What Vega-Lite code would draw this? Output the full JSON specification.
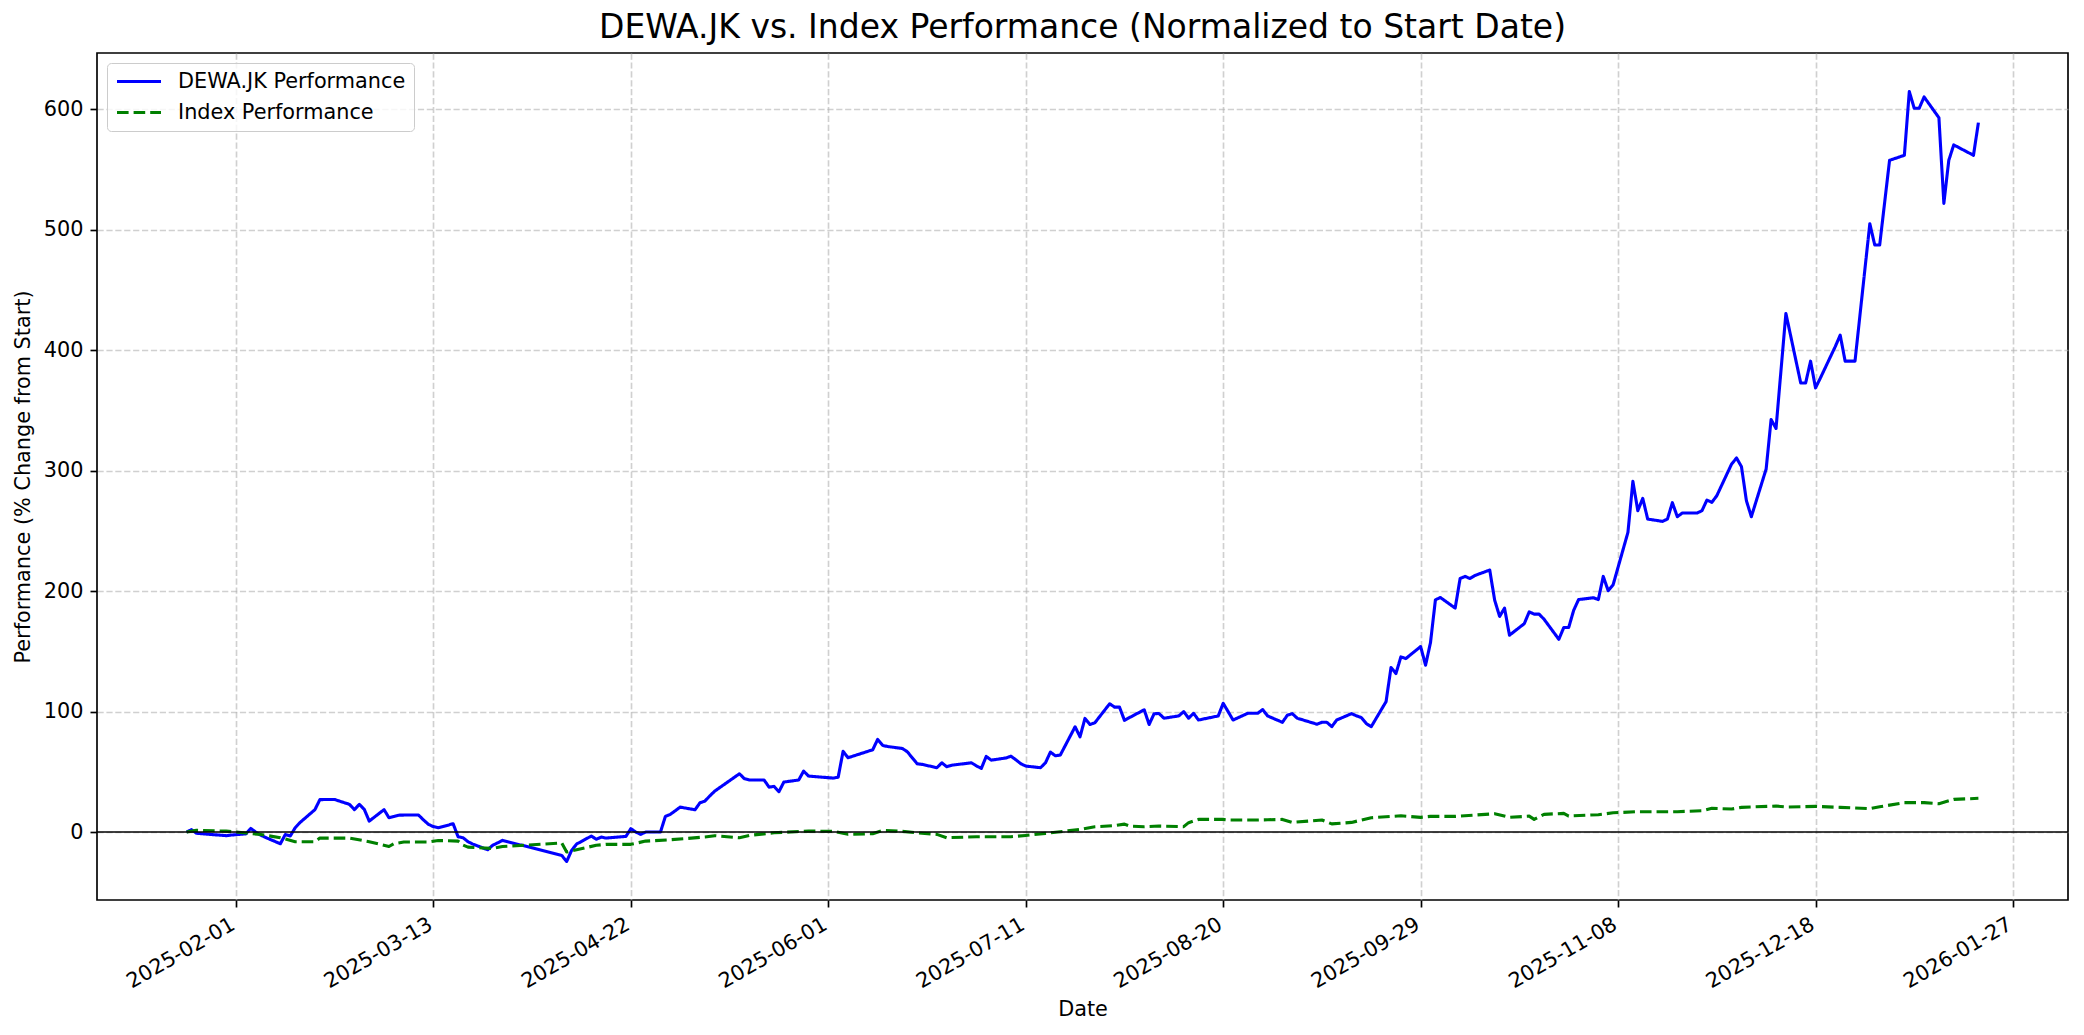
{
  "$schema": "https://vega.github.io/schema/vega-lite/v6.json",
  "width": 1971,
  "height": 847,
  "autosize": {"type": "none"},
  "padding": {"left": 97, "top": 53, "right": 16, "bottom": 135},
  "background": "white",
  "title": {"text": "DEWA.JK vs. Index Performance (Normalized to Start Date)", "font": "DejaVu Sans", "fontSize": 33, "fontWeight": "normal", "color": "black", "anchor": "middle", "offset": 8},
  "config": {
    "view": {"stroke": "black", "strokeWidth": 1.67},
    "axis": {"labelFont": "DejaVu Sans", "labelFontSize": 20.8, "labelColor": "black", "titleFont": "DejaVu Sans", "titleFontSize": 20.8, "titleFontWeight": "normal", "titleColor": "black", "domain": false, "tickColor": "black", "tickWidth": 1.67, "tickSize": 7, "labelPadding": 7, "grid": true, "gridColor": "#b0b0b0", "gridOpacity": 0.6, "gridWidth": 1.67, "gridDash": [6.2, 2.7]},
    "legend": {"orient": "none", "legendX": 10, "legendY": 10, "title": null, "labelFont": "DejaVu Sans", "labelFontSize": 20.8, "labelColor": "black", "labelLimit": 600, "symbolType": "stroke", "symbolSize": 1936, "symbolStrokeWidth": 3.1, "labelOffset": 15, "padding": 8, "rowPadding": 9, "clipHeight": 21, "fillColor": "rgba(255,255,255,0.8)", "strokeColor": "#cccccc", "cornerRadius": 4}
  },
  "datasets": {
    "perf": [
      {"date":"2025-01-22","series":"DEWA.JK Performance","value":0},
      {"date":"2025-01-23","series":"DEWA.JK Performance","value":2},
      {"date":"2025-01-24","series":"DEWA.JK Performance","value":-1},
      {"date":"2025-01-27","series":"DEWA.JK Performance","value":-2},
      {"date":"2025-01-30","series":"DEWA.JK Performance","value":-3},
      {"date":"2025-01-31","series":"DEWA.JK Performance","value":-2.5},
      {"date":"2025-02-03","series":"DEWA.JK Performance","value":-1.5},
      {"date":"2025-02-04","series":"DEWA.JK Performance","value":3},
      {"date":"2025-02-05","series":"DEWA.JK Performance","value":0},
      {"date":"2025-02-06","series":"DEWA.JK Performance","value":-2.5},
      {"date":"2025-02-07","series":"DEWA.JK Performance","value":-4.5},
      {"date":"2025-02-10","series":"DEWA.JK Performance","value":-9.7},
      {"date":"2025-02-11","series":"DEWA.JK Performance","value":-2},
      {"date":"2025-02-12","series":"DEWA.JK Performance","value":-3.3},
      {"date":"2025-02-13","series":"DEWA.JK Performance","value":3.6},
      {"date":"2025-02-14","series":"DEWA.JK Performance","value":8},
      {"date":"2025-02-17","series":"DEWA.JK Performance","value":18.6},
      {"date":"2025-02-18","series":"DEWA.JK Performance","value":26.9},
      {"date":"2025-02-19","series":"DEWA.JK Performance","value":27},
      {"date":"2025-02-20","series":"DEWA.JK Performance","value":27},
      {"date":"2025-02-21","series":"DEWA.JK Performance","value":27},
      {"date":"2025-02-24","series":"DEWA.JK Performance","value":23},
      {"date":"2025-02-25","series":"DEWA.JK Performance","value":18.6},
      {"date":"2025-02-26","series":"DEWA.JK Performance","value":23},
      {"date":"2025-02-27","series":"DEWA.JK Performance","value":18.8},
      {"date":"2025-02-28","series":"DEWA.JK Performance","value":9.1},
      {"date":"2025-03-03","series":"DEWA.JK Performance","value":18.6},
      {"date":"2025-03-04","series":"DEWA.JK Performance","value":11.9},
      {"date":"2025-03-05","series":"DEWA.JK Performance","value":13},
      {"date":"2025-03-06","series":"DEWA.JK Performance","value":14},
      {"date":"2025-03-07","series":"DEWA.JK Performance","value":14.1},
      {"date":"2025-03-10","series":"DEWA.JK Performance","value":14.1},
      {"date":"2025-03-11","series":"DEWA.JK Performance","value":10},
      {"date":"2025-03-12","series":"DEWA.JK Performance","value":6.4},
      {"date":"2025-03-13","series":"DEWA.JK Performance","value":4.5},
      {"date":"2025-03-14","series":"DEWA.JK Performance","value":3.6},
      {"date":"2025-03-17","series":"DEWA.JK Performance","value":6.9},
      {"date":"2025-03-18","series":"DEWA.JK Performance","value":-3.9},
      {"date":"2025-03-19","series":"DEWA.JK Performance","value":-4.7},
      {"date":"2025-03-20","series":"DEWA.JK Performance","value":-8},
      {"date":"2025-03-21","series":"DEWA.JK Performance","value":-10},
      {"date":"2025-03-24","series":"DEWA.JK Performance","value":-14.7},
      {"date":"2025-03-25","series":"DEWA.JK Performance","value":-11},
      {"date":"2025-03-26","series":"DEWA.JK Performance","value":-9},
      {"date":"2025-03-27","series":"DEWA.JK Performance","value":-6.9},
      {"date":"2025-04-08","series":"DEWA.JK Performance","value":-19.4},
      {"date":"2025-04-09","series":"DEWA.JK Performance","value":-24.4},
      {"date":"2025-04-10","series":"DEWA.JK Performance","value":-15.2},
      {"date":"2025-04-11","series":"DEWA.JK Performance","value":-10},
      {"date":"2025-04-14","series":"DEWA.JK Performance","value":-3.3},
      {"date":"2025-04-15","series":"DEWA.JK Performance","value":-6},
      {"date":"2025-04-16","series":"DEWA.JK Performance","value":-4.2},
      {"date":"2025-04-17","series":"DEWA.JK Performance","value":-5},
      {"date":"2025-04-21","series":"DEWA.JK Performance","value":-3.6},
      {"date":"2025-04-22","series":"DEWA.JK Performance","value":2.8},
      {"date":"2025-04-23","series":"DEWA.JK Performance","value":0},
      {"date":"2025-04-24","series":"DEWA.JK Performance","value":-1.9},
      {"date":"2025-04-25","series":"DEWA.JK Performance","value":0},
      {"date":"2025-04-28","series":"DEWA.JK Performance","value":0},
      {"date":"2025-04-29","series":"DEWA.JK Performance","value":13},
      {"date":"2025-04-30","series":"DEWA.JK Performance","value":14.7},
      {"date":"2025-05-02","series":"DEWA.JK Performance","value":20.7},
      {"date":"2025-05-05","series":"DEWA.JK Performance","value":18.5},
      {"date":"2025-05-06","series":"DEWA.JK Performance","value":24.3},
      {"date":"2025-05-07","series":"DEWA.JK Performance","value":25.7},
      {"date":"2025-05-08","series":"DEWA.JK Performance","value":30},
      {"date":"2025-05-09","series":"DEWA.JK Performance","value":34},
      {"date":"2025-05-14","series":"DEWA.JK Performance","value":48.4},
      {"date":"2025-05-15","series":"DEWA.JK Performance","value":44.3},
      {"date":"2025-05-16","series":"DEWA.JK Performance","value":43.2},
      {"date":"2025-05-19","series":"DEWA.JK Performance","value":43.2},
      {"date":"2025-05-20","series":"DEWA.JK Performance","value":37.3},
      {"date":"2025-05-21","series":"DEWA.JK Performance","value":37.9},
      {"date":"2025-05-22","series":"DEWA.JK Performance","value":33.5},
      {"date":"2025-05-23","series":"DEWA.JK Performance","value":41.5},
      {"date":"2025-05-26","series":"DEWA.JK Performance","value":43.2},
      {"date":"2025-05-27","series":"DEWA.JK Performance","value":50.6},
      {"date":"2025-05-28","series":"DEWA.JK Performance","value":46.5},
      {"date":"2025-06-02","series":"DEWA.JK Performance","value":44.8},
      {"date":"2025-06-03","series":"DEWA.JK Performance","value":45.5},
      {"date":"2025-06-04","series":"DEWA.JK Performance","value":67},
      {"date":"2025-06-05","series":"DEWA.JK Performance","value":61.7},
      {"date":"2025-06-10","series":"DEWA.JK Performance","value":68.3},
      {"date":"2025-06-11","series":"DEWA.JK Performance","value":76.9},
      {"date":"2025-06-12","series":"DEWA.JK Performance","value":72},
      {"date":"2025-06-13","series":"DEWA.JK Performance","value":71},
      {"date":"2025-06-16","series":"DEWA.JK Performance","value":69.4},
      {"date":"2025-06-17","series":"DEWA.JK Performance","value":66.7},
      {"date":"2025-06-18","series":"DEWA.JK Performance","value":61.7},
      {"date":"2025-06-19","series":"DEWA.JK Performance","value":56.7},
      {"date":"2025-06-20","series":"DEWA.JK Performance","value":56.2},
      {"date":"2025-06-23","series":"DEWA.JK Performance","value":53.4},
      {"date":"2025-06-24","series":"DEWA.JK Performance","value":57.5},
      {"date":"2025-06-25","series":"DEWA.JK Performance","value":54.2},
      {"date":"2025-06-26","series":"DEWA.JK Performance","value":55.5},
      {"date":"2025-06-30","series":"DEWA.JK Performance","value":57.5},
      {"date":"2025-07-01","series":"DEWA.JK Performance","value":55},
      {"date":"2025-07-02","series":"DEWA.JK Performance","value":52.8},
      {"date":"2025-07-03","series":"DEWA.JK Performance","value":62.8},
      {"date":"2025-07-04","series":"DEWA.JK Performance","value":59.7},
      {"date":"2025-07-07","series":"DEWA.JK Performance","value":61.5},
      {"date":"2025-07-08","series":"DEWA.JK Performance","value":63},
      {"date":"2025-07-09","series":"DEWA.JK Performance","value":60},
      {"date":"2025-07-10","series":"DEWA.JK Performance","value":56.7},
      {"date":"2025-07-11","series":"DEWA.JK Performance","value":54.8},
      {"date":"2025-07-14","series":"DEWA.JK Performance","value":53.4},
      {"date":"2025-07-15","series":"DEWA.JK Performance","value":57.5},
      {"date":"2025-07-16","series":"DEWA.JK Performance","value":66.4},
      {"date":"2025-07-17","series":"DEWA.JK Performance","value":63.3},
      {"date":"2025-07-18","series":"DEWA.JK Performance","value":63.9},
      {"date":"2025-07-21","series":"DEWA.JK Performance","value":87.4},
      {"date":"2025-07-22","series":"DEWA.JK Performance","value":79.1},
      {"date":"2025-07-23","series":"DEWA.JK Performance","value":94.3},
      {"date":"2025-07-24","series":"DEWA.JK Performance","value":89.3},
      {"date":"2025-07-25","series":"DEWA.JK Performance","value":90.7},
      {"date":"2025-07-28","series":"DEWA.JK Performance","value":106.5},
      {"date":"2025-07-29","series":"DEWA.JK Performance","value":103.7},
      {"date":"2025-07-30","series":"DEWA.JK Performance","value":103.7},
      {"date":"2025-07-31","series":"DEWA.JK Performance","value":92.7},
      {"date":"2025-08-01","series":"DEWA.JK Performance","value":95},
      {"date":"2025-08-04","series":"DEWA.JK Performance","value":101.5},
      {"date":"2025-08-05","series":"DEWA.JK Performance","value":89.3},
      {"date":"2025-08-06","series":"DEWA.JK Performance","value":98.2},
      {"date":"2025-08-07","series":"DEWA.JK Performance","value":98.4},
      {"date":"2025-08-08","series":"DEWA.JK Performance","value":94.5},
      {"date":"2025-08-11","series":"DEWA.JK Performance","value":96.4},
      {"date":"2025-08-12","series":"DEWA.JK Performance","value":100},
      {"date":"2025-08-13","series":"DEWA.JK Performance","value":94.5},
      {"date":"2025-08-14","series":"DEWA.JK Performance","value":98.6},
      {"date":"2025-08-15","series":"DEWA.JK Performance","value":93},
      {"date":"2025-08-19","series":"DEWA.JK Performance","value":96.4},
      {"date":"2025-08-20","series":"DEWA.JK Performance","value":106.9},
      {"date":"2025-08-21","series":"DEWA.JK Performance","value":100},
      {"date":"2025-08-22","series":"DEWA.JK Performance","value":93},
      {"date":"2025-08-25","series":"DEWA.JK Performance","value":98.6},
      {"date":"2025-08-26","series":"DEWA.JK Performance","value":98.6},
      {"date":"2025-08-27","series":"DEWA.JK Performance","value":98.6},
      {"date":"2025-08-28","series":"DEWA.JK Performance","value":101.7},
      {"date":"2025-08-29","series":"DEWA.JK Performance","value":96.4},
      {"date":"2025-09-01","series":"DEWA.JK Performance","value":91.1},
      {"date":"2025-09-02","series":"DEWA.JK Performance","value":97},
      {"date":"2025-09-03","series":"DEWA.JK Performance","value":98.3},
      {"date":"2025-09-04","series":"DEWA.JK Performance","value":94.5},
      {"date":"2025-09-08","series":"DEWA.JK Performance","value":89.5},
      {"date":"2025-09-09","series":"DEWA.JK Performance","value":91.1},
      {"date":"2025-09-10","series":"DEWA.JK Performance","value":91.1},
      {"date":"2025-09-11","series":"DEWA.JK Performance","value":87.5},
      {"date":"2025-09-12","series":"DEWA.JK Performance","value":93},
      {"date":"2025-09-15","series":"DEWA.JK Performance","value":98.3},
      {"date":"2025-09-16","series":"DEWA.JK Performance","value":96.5},
      {"date":"2025-09-17","series":"DEWA.JK Performance","value":95},
      {"date":"2025-09-18","series":"DEWA.JK Performance","value":90},
      {"date":"2025-09-19","series":"DEWA.JK Performance","value":87.5},
      {"date":"2025-09-22","series":"DEWA.JK Performance","value":108.3},
      {"date":"2025-09-23","series":"DEWA.JK Performance","value":136.6},
      {"date":"2025-09-24","series":"DEWA.JK Performance","value":131.6},
      {"date":"2025-09-25","series":"DEWA.JK Performance","value":145.4},
      {"date":"2025-09-26","series":"DEWA.JK Performance","value":144},
      {"date":"2025-09-29","series":"DEWA.JK Performance","value":154},
      {"date":"2025-09-30","series":"DEWA.JK Performance","value":138.5},
      {"date":"2025-10-01","series":"DEWA.JK Performance","value":157.3},
      {"date":"2025-10-02","series":"DEWA.JK Performance","value":192.8},
      {"date":"2025-10-03","series":"DEWA.JK Performance","value":194.7},
      {"date":"2025-10-06","series":"DEWA.JK Performance","value":185.9},
      {"date":"2025-10-07","series":"DEWA.JK Performance","value":210.5},
      {"date":"2025-10-08","series":"DEWA.JK Performance","value":212.2},
      {"date":"2025-10-09","series":"DEWA.JK Performance","value":210.5},
      {"date":"2025-10-10","series":"DEWA.JK Performance","value":213},
      {"date":"2025-10-13","series":"DEWA.JK Performance","value":217.5},
      {"date":"2025-10-14","series":"DEWA.JK Performance","value":192.5},
      {"date":"2025-10-15","series":"DEWA.JK Performance","value":179},
      {"date":"2025-10-16","series":"DEWA.JK Performance","value":185.9},
      {"date":"2025-10-17","series":"DEWA.JK Performance","value":163.4},
      {"date":"2025-10-20","series":"DEWA.JK Performance","value":173},
      {"date":"2025-10-21","series":"DEWA.JK Performance","value":182.8},
      {"date":"2025-10-22","series":"DEWA.JK Performance","value":180.9},
      {"date":"2025-10-23","series":"DEWA.JK Performance","value":180.9},
      {"date":"2025-10-24","series":"DEWA.JK Performance","value":176.7},
      {"date":"2025-10-27","series":"DEWA.JK Performance","value":160},
      {"date":"2025-10-28","series":"DEWA.JK Performance","value":169.8},
      {"date":"2025-10-29","series":"DEWA.JK Performance","value":169.8},
      {"date":"2025-10-30","series":"DEWA.JK Performance","value":184},
      {"date":"2025-10-31","series":"DEWA.JK Performance","value":193},
      {"date":"2025-11-03","series":"DEWA.JK Performance","value":194.5},
      {"date":"2025-11-04","series":"DEWA.JK Performance","value":193},
      {"date":"2025-11-05","series":"DEWA.JK Performance","value":212.2},
      {"date":"2025-11-06","series":"DEWA.JK Performance","value":200.3},
      {"date":"2025-11-07","series":"DEWA.JK Performance","value":205.3},
      {"date":"2025-11-10","series":"DEWA.JK Performance","value":248.8},
      {"date":"2025-11-11","series":"DEWA.JK Performance","value":291.1},
      {"date":"2025-11-12","series":"DEWA.JK Performance","value":266.8},
      {"date":"2025-11-13","series":"DEWA.JK Performance","value":277},
      {"date":"2025-11-14","series":"DEWA.JK Performance","value":259.8},
      {"date":"2025-11-17","series":"DEWA.JK Performance","value":257.9},
      {"date":"2025-11-18","series":"DEWA.JK Performance","value":259.8},
      {"date":"2025-11-19","series":"DEWA.JK Performance","value":273.4},
      {"date":"2025-11-20","series":"DEWA.JK Performance","value":261.8},
      {"date":"2025-11-21","series":"DEWA.JK Performance","value":264.8},
      {"date":"2025-11-24","series":"DEWA.JK Performance","value":264.8},
      {"date":"2025-11-25","series":"DEWA.JK Performance","value":266.8},
      {"date":"2025-11-26","series":"DEWA.JK Performance","value":275.6},
      {"date":"2025-11-27","series":"DEWA.JK Performance","value":273.7},
      {"date":"2025-11-28","series":"DEWA.JK Performance","value":279.2},
      {"date":"2025-12-01","series":"DEWA.JK Performance","value":305.5},
      {"date":"2025-12-02","series":"DEWA.JK Performance","value":310.5},
      {"date":"2025-12-03","series":"DEWA.JK Performance","value":303.3},
      {"date":"2025-12-04","series":"DEWA.JK Performance","value":275},
      {"date":"2025-12-05","series":"DEWA.JK Performance","value":261.8},
      {"date":"2025-12-08","series":"DEWA.JK Performance","value":301.4},
      {"date":"2025-12-09","series":"DEWA.JK Performance","value":342.4},
      {"date":"2025-12-10","series":"DEWA.JK Performance","value":335},
      {"date":"2025-12-11","series":"DEWA.JK Performance","value":383},
      {"date":"2025-12-12","series":"DEWA.JK Performance","value":430.5},
      {"date":"2025-12-15","series":"DEWA.JK Performance","value":372.8},
      {"date":"2025-12-16","series":"DEWA.JK Performance","value":372.8},
      {"date":"2025-12-17","series":"DEWA.JK Performance","value":390.9},
      {"date":"2025-12-18","series":"DEWA.JK Performance","value":368.7},
      {"date":"2025-12-19","series":"DEWA.JK Performance","value":377},
      {"date":"2025-12-22","series":"DEWA.JK Performance","value":403},
      {"date":"2025-12-23","series":"DEWA.JK Performance","value":412.5},
      {"date":"2025-12-24","series":"DEWA.JK Performance","value":390.9},
      {"date":"2025-12-26","series":"DEWA.JK Performance","value":390.9},
      {"date":"2025-12-29","series":"DEWA.JK Performance","value":505},
      {"date":"2025-12-30","series":"DEWA.JK Performance","value":487.3},
      {"date":"2025-12-31","series":"DEWA.JK Performance","value":487.3},
      {"date":"2026-01-02","series":"DEWA.JK Performance","value":557.6},
      {"date":"2026-01-05","series":"DEWA.JK Performance","value":561.8},
      {"date":"2026-01-06","series":"DEWA.JK Performance","value":614.7},
      {"date":"2026-01-07","series":"DEWA.JK Performance","value":600.8},
      {"date":"2026-01-08","series":"DEWA.JK Performance","value":600.8},
      {"date":"2026-01-09","series":"DEWA.JK Performance","value":610.2},
      {"date":"2026-01-12","series":"DEWA.JK Performance","value":593},
      {"date":"2026-01-13","series":"DEWA.JK Performance","value":521.9},
      {"date":"2026-01-14","series":"DEWA.JK Performance","value":557.6},
      {"date":"2026-01-15","series":"DEWA.JK Performance","value":570.4},
      {"date":"2026-01-19","series":"DEWA.JK Performance","value":561.8},
      {"date":"2026-01-20","series":"DEWA.JK Performance","value":588.9},
      {"date":"2025-01-22","series":"Index Performance","value":0},
      {"date":"2025-01-24","series":"Index Performance","value":1.4},
      {"date":"2025-01-30","series":"Index Performance","value":0.8},
      {"date":"2025-02-03","series":"Index Performance","value":-0.8},
      {"date":"2025-02-06","series":"Index Performance","value":-2},
      {"date":"2025-02-10","series":"Index Performance","value":-4.7},
      {"date":"2025-02-13","series":"Index Performance","value":-8},
      {"date":"2025-02-17","series":"Index Performance","value":-8},
      {"date":"2025-02-18","series":"Index Performance","value":-5},
      {"date":"2025-02-24","series":"Index Performance","value":-5},
      {"date":"2025-02-28","series":"Index Performance","value":-8},
      {"date":"2025-03-04","series":"Index Performance","value":-12},
      {"date":"2025-03-05","series":"Index Performance","value":-9.7},
      {"date":"2025-03-07","series":"Index Performance","value":-8.3},
      {"date":"2025-03-12","series":"Index Performance","value":-8.3},
      {"date":"2025-03-14","series":"Index Performance","value":-7},
      {"date":"2025-03-18","series":"Index Performance","value":-7.5},
      {"date":"2025-03-19","series":"Index Performance","value":-10.8},
      {"date":"2025-03-20","series":"Index Performance","value":-12.5},
      {"date":"2025-03-25","series":"Index Performance","value":-13.6},
      {"date":"2025-03-27","series":"Index Performance","value":-12},
      {"date":"2025-04-08","series":"Index Performance","value":-9.1},
      {"date":"2025-04-09","series":"Index Performance","value":-16.6},
      {"date":"2025-04-11","series":"Index Performance","value":-14.7},
      {"date":"2025-04-15","series":"Index Performance","value":-11},
      {"date":"2025-04-17","series":"Index Performance","value":-10.2},
      {"date":"2025-04-22","series":"Index Performance","value":-10.2},
      {"date":"2025-04-25","series":"Index Performance","value":-7.5},
      {"date":"2025-04-30","series":"Index Performance","value":-6.4},
      {"date":"2025-05-07","series":"Index Performance","value":-4.1},
      {"date":"2025-05-09","series":"Index Performance","value":-3},
      {"date":"2025-05-14","series":"Index Performance","value":-4.7},
      {"date":"2025-05-16","series":"Index Performance","value":-2.8},
      {"date":"2025-05-21","series":"Index Performance","value":-0.6},
      {"date":"2025-05-28","series":"Index Performance","value":0.8},
      {"date":"2025-06-02","series":"Index Performance","value":0.6},
      {"date":"2025-06-05","series":"Index Performance","value":-1.9},
      {"date":"2025-06-10","series":"Index Performance","value":-1.4},
      {"date":"2025-06-12","series":"Index Performance","value":1.4},
      {"date":"2025-06-16","series":"Index Performance","value":0.6},
      {"date":"2025-06-19","series":"Index Performance","value":-0.6},
      {"date":"2025-06-23","series":"Index Performance","value":-1.9},
      {"date":"2025-06-25","series":"Index Performance","value":-4.7},
      {"date":"2025-07-01","series":"Index Performance","value":-3.9},
      {"date":"2025-07-08","series":"Index Performance","value":-3.9},
      {"date":"2025-07-11","series":"Index Performance","value":-2.8},
      {"date":"2025-07-15","series":"Index Performance","value":-1.1},
      {"date":"2025-07-22","series":"Index Performance","value":2.2},
      {"date":"2025-07-25","series":"Index Performance","value":4.4},
      {"date":"2025-07-29","series":"Index Performance","value":5.3},
      {"date":"2025-07-31","series":"Index Performance","value":6.6},
      {"date":"2025-08-01","series":"Index Performance","value":5},
      {"date":"2025-08-04","series":"Index Performance","value":4.4},
      {"date":"2025-08-07","series":"Index Performance","value":5},
      {"date":"2025-08-12","series":"Index Performance","value":4.5},
      {"date":"2025-08-13","series":"Index Performance","value":7.8},
      {"date":"2025-08-15","series":"Index Performance","value":10.5},
      {"date":"2025-08-20","series":"Index Performance","value":10.5},
      {"date":"2025-08-21","series":"Index Performance","value":10},
      {"date":"2025-08-27","series":"Index Performance","value":10},
      {"date":"2025-08-29","series":"Index Performance","value":10.2},
      {"date":"2025-09-01","series":"Index Performance","value":10.5},
      {"date":"2025-09-03","series":"Index Performance","value":8},
      {"date":"2025-09-09","series":"Index Performance","value":10},
      {"date":"2025-09-11","series":"Index Performance","value":6.8},
      {"date":"2025-09-15","series":"Index Performance","value":8},
      {"date":"2025-09-19","series":"Index Performance","value":11.9},
      {"date":"2025-09-25","series":"Index Performance","value":13.5},
      {"date":"2025-09-29","series":"Index Performance","value":12.2},
      {"date":"2025-10-01","series":"Index Performance","value":13},
      {"date":"2025-10-06","series":"Index Performance","value":13},
      {"date":"2025-10-14","series":"Index Performance","value":15.2},
      {"date":"2025-10-17","series":"Index Performance","value":12.2},
      {"date":"2025-10-21","series":"Index Performance","value":13.2},
      {"date":"2025-10-22","series":"Index Performance","value":10.5},
      {"date":"2025-10-24","series":"Index Performance","value":14.7},
      {"date":"2025-10-28","series":"Index Performance","value":15.5},
      {"date":"2025-10-29","series":"Index Performance","value":13.3},
      {"date":"2025-11-04","series":"Index Performance","value":14.4},
      {"date":"2025-11-07","series":"Index Performance","value":16},
      {"date":"2025-11-12","series":"Index Performance","value":16.9},
      {"date":"2025-11-20","series":"Index Performance","value":16.9},
      {"date":"2025-11-25","series":"Index Performance","value":17.7},
      {"date":"2025-11-27","series":"Index Performance","value":19.7},
      {"date":"2025-12-01","series":"Index Performance","value":19.1},
      {"date":"2025-12-03","series":"Index Performance","value":20.5},
      {"date":"2025-12-10","series":"Index Performance","value":21.6},
      {"date":"2025-12-12","series":"Index Performance","value":20.8},
      {"date":"2025-12-18","series":"Index Performance","value":21.3},
      {"date":"2025-12-23","series":"Index Performance","value":20.5},
      {"date":"2025-12-29","series":"Index Performance","value":19.4},
      {"date":"2025-12-31","series":"Index Performance","value":21},
      {"date":"2026-01-05","series":"Index Performance","value":24.4},
      {"date":"2026-01-09","series":"Index Performance","value":24.4},
      {"date":"2026-01-12","series":"Index Performance","value":23.5},
      {"date":"2026-01-15","series":"Index Performance","value":27.1},
      {"date":"2026-01-20","series":"Index Performance","value":28}
    ]
  },
  "layer": [
    {
      "data": {"name": "perf"},
      "mark": {"type": "line", "strokeWidth": 3.1, "strokeJoin": "round", "strokeCap": "butt"},
      "encoding": {
        "x": {
          "field": "date", "type": "temporal",
          "scale": {"type": "utc", "domain": [{"year": 2025, "month": 1, "date": 3, "hours": 20, "minutes": 24, "utc": true}, {"year": 2026, "month": 2, "date": 7, "hours": 3, "minutes": 36, "utc": true}]},
          "axis": {
            "title": "Date", "format": "%Y-%m-%d", "labelAngle": -30, "labelAlign": "right", "labelBaseline": "top", "labelOffset": -8, "titlePadding": 8,
            "values": [
              {"year": 2025, "month": 2, "date": 1, "utc": true},
              {"year": 2025, "month": 3, "date": 13, "utc": true},
              {"year": 2025, "month": 4, "date": 22, "utc": true},
              {"year": 2025, "month": 6, "date": 1, "utc": true},
              {"year": 2025, "month": 7, "date": 11, "utc": true},
              {"year": 2025, "month": 8, "date": 20, "utc": true},
              {"year": 2025, "month": 9, "date": 29, "utc": true},
              {"year": 2025, "month": 11, "date": 8, "utc": true},
              {"year": 2025, "month": 12, "date": 18, "utc": true},
              {"year": 2026, "month": 1, "date": 27, "utc": true}
            ]
          }
        },
        "y": {
          "field": "value", "type": "quantitative",
          "scale": {"domain": [-56.4, 646.7], "nice": false, "zero": false},
          "axis": {"title": "Performance (% Change from Start)", "values": [0, 100, 200, 300, 400, 500, 600], "titlePadding": 10}
        },
        "color": {"field": "series", "type": "nominal", "scale": {"domain": ["DEWA.JK Performance", "Index Performance"], "range": ["#0000ff", "#008000"]}, "legend": {"title": null}},
        "strokeDash": {"field": "series", "type": "nominal", "scale": {"domain": ["DEWA.JK Performance", "Index Performance"], "range": [[1, 0], [11.6, 5]]}, "legend": {"title": null}}
      }
    },
    {
      "data": {"values": [{"z": 0}]},
      "mark": {"type": "rule", "color": "black", "strokeWidth": 1.6},
      "encoding": {"y": {"field": "z", "type": "quantitative"}}
    }
  ]
}
